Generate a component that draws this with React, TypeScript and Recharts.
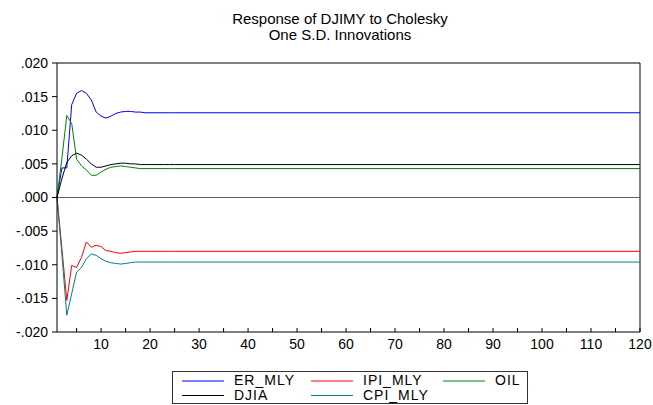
import { LineChart, Line, XAxis, YAxis, ReferenceLine } from "recharts";

const periods = [1, 2, 3, 4, 5, 6, 7, 8, 9, 10, 11, 12, 13, 14, 15, 16, 17, 18, 19, 20, 21, 22, 23, 24, 25, 120];

const erMly = [0, 0.0044, 0.0044, 0.0138, 0.0155, 0.0159, 0.0155, 0.0145, 0.0127, 0.0121, 0.0118, 0.0121, 0.0125,
  0.0127, 0.0128, 0.0128, 0.0127, 0.0127, 0.0126, 0.0126, 0.0126, 0.0126, 0.0126, 0.0126, 0.0126, 0.0126];
const ipiMly = [0, -0.0076, -0.0153, -0.0101, -0.0104, -0.0089, -0.0066, -0.0074, -0.0071, -0.0073, -0.0079, -0.008,
  -0.0082, -0.0083, -0.0082, -0.0081, -0.008, -0.008, -0.008, -0.008, -0.008, -0.008, -0.008, -0.008, -0.008, -0.008];
const oil = [0, 0.0058, 0.0122, 0.011, 0.0057, 0.0047, 0.0041, 0.0033, 0.0033, 0.0038, 0.0042, 0.0045, 0.0046,
  0.0047, 0.0046, 0.0045, 0.0044, 0.0043, 0.0043, 0.0043, 0.0043, 0.0043, 0.0043, 0.0043, 0.0043, 0.0043];
const djia = [0, 0.0028, 0.0052, 0.0062, 0.0066, 0.0063, 0.0057, 0.005, 0.0045, 0.0045, 0.0047, 0.0049, 0.005,
  0.0051, 0.0051, 0.005, 0.005, 0.0049, 0.0049, 0.0049, 0.0049, 0.0049, 0.0049, 0.0049, 0.0049, 0.0049];
const cpiMly = [0, -0.0085, -0.0175, -0.0143, -0.0111, -0.0104, -0.0091, -0.0084, -0.0086, -0.0091, -0.0095, -0.0097,
  -0.0098, -0.0099, -0.0098, -0.0097, -0.0096, -0.0096, -0.0096, -0.0096, -0.0096, -0.0096, -0.0096, -0.0096, -0.0096, -0.0096];

const xTicks = [5, 10, 15, 20, 25, 30, 35, 40, 45, 50, 55, 60, 65, 70, 75, 80, 85, 90, 95, 100, 105, 110, 115, 120];
const yTicks = [-0.02, -0.015, -0.01, -0.005, 0, 0.005, 0.01, 0.015, 0.02];

const series = [
  { key: "ER_MLY", values: erMly, color: "#0000ff", legend: "#8080ff", lw: 2 },
  { key: "IPI_MLY", values: ipiMly, color: "#ff0000", legend: "#ff8080", lw: 2 },
  { key: "OIL", values: oil, color: "#008000", legend: "#80c080", lw: 2 },
  { key: "DJIA", values: djia, color: "#000000", legend: "#000000", lw: 1 },
  { key: "CPI_MLY", values: cpiMly, color: "#008080", legend: "#008080", lw: 1 },
];

const data = periods.map((p, i) => {
  const row: Record<string, number> = { period: p };
  series.forEach((s) => (row[s.key] = s.values[i]));
  return row;
});

const FONT = "'Liberation Sans', Arial, sans-serif";

const fmtY = (v: number) => v.toFixed(3).replace("0.", ".");

function XTick(props: any) {
  const { x, y, payload } = props;
  if (payload.value % 10 !== 0) return null;
  return (
    <text x={x} y={y} textAnchor="middle" dominantBaseline="hanging" fontSize={14} fontFamily={FONT} fill="#000">
      {payload.value}
    </text>
  );
}

const legendRows = [
  [series[0], series[1], series[2]],
  [series[3], series[4]],
];

export default function App() {
  return (
    <div style={{ position: "absolute", left: 0, top: 0, width: 653, height: 405, background: "#fff", overflow: "hidden" }}>
      <div style={{ position: "absolute", left: 190, width: 300, top: 11, textAlign: "center", fontFamily: FONT, fontSize: 15, lineHeight: "16px", color: "#000" }}>
        Response of DJIMY to Cholesky
        <br />
        One S.D. Innovations
      </div>
      <LineChart width={653} height={405} data={data} margin={{ top: 63, right: 13, bottom: 43, left: 0 }}>
        <XAxis
          dataKey="period"
          type="number"
          domain={[1, 120]}
          ticks={xTicks}
          interval={0}
          height={30}
          tickSize={-4}
          tickMargin={11}
          stroke="#000"
          tickLine={{ stroke: "#000" }}
          tick={<XTick />}
        />
        <YAxis
          type="number"
          domain={[-0.02, 0.02]}
          ticks={yTicks}
          interval={0}
          width={57}
          tickSize={5}
          tickMargin={4}
          stroke="#000"
          tickFormatter={fmtY}
          tick={{ fontSize: 14, fontFamily: FONT, fill: "#000" }}
        />
        <ReferenceLine y={0.02} stroke="#000" />
        <ReferenceLine x={120} stroke="#000" />
        <ReferenceLine y={0} stroke="#606060" />
        {series.map((s) => (
          <Line key={s.key} type="linear" dataKey={s.key} stroke={s.color} strokeWidth={1} dot={false} isAnimationActive={false} />
        ))}
      </LineChart>
      <div style={{ position: "absolute", left: 172, top: 371, width: 356, height: 33, border: "1px solid #333", boxSizing: "border-box", fontFamily: FONT, fontSize: 14, letterSpacing: 1, color: "#000" }}>
        {legendRows.map((row, r) => (
          <div key={r} style={{ position: "absolute", top: r === 0 ? 1 : 16, left: 0, height: 15 }}>
            {row.map((s, c) => (
              <div key={s.key} style={{ position: "absolute", left: [9, 138, 270][c], top: 0, display: "flex", alignItems: "center", height: 15, whiteSpace: "nowrap" }}>
                <span style={{ display: "inline-block", width: 42, height: 0, borderTop: `${s.lw}px solid ${s.legend}`, marginRight: 10 }} />
                <span style={{ lineHeight: "15px" }}>{s.key}</span>
              </div>
            ))}
          </div>
        ))}
      </div>
    </div>
  );
}
